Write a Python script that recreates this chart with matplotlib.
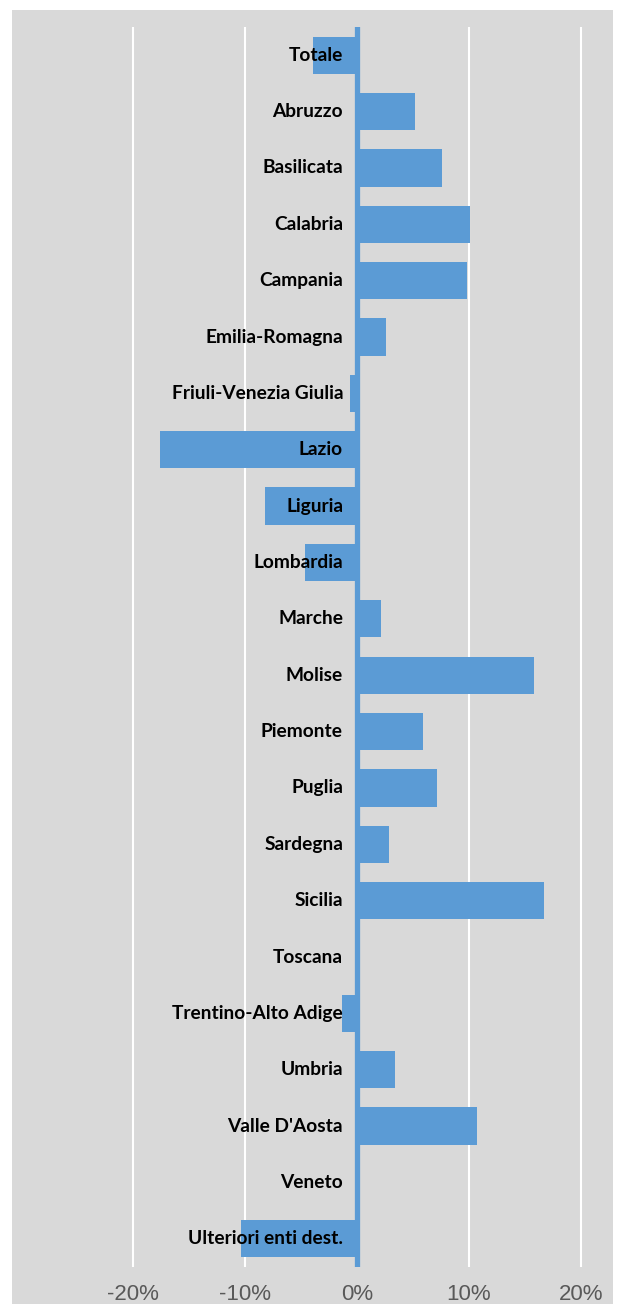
import numpy as np
import matplotlib
matplotlib.use("Agg")
from matplotlib import pyplot as plt
from matplotlib.patches import Rectangle

regions = ["Totale", "Abruzzo", "Basilicata", "Calabria", "Campania",
           "Emilia-Romagna", "Friuli-Venezia Giulia", "Lazio", "Liguria",
           "Lombardia", "Marche", "Molise", "Piemonte", "Puglia", "Sardegna",
           "Sicilia", "Toscana", "Trentino-Alto Adige", "Umbria",
           "Valle D'Aosta", "Veneto", "Ulteriori enti dest."]
variation = [-3.9, 5.2, 7.6, 10.1, 9.8, 2.6, -0.6, -17.6, -8.2, -4.6, 2.1,
             15.8, 5.9, 7.1, 2.9, 16.7, 0.1, -1.3, 3.4, 10.7, 0.0, -10.4]
ticks = [-20, -10, 0, 10, 20]
tick_labels = ["-20%", "-10%", "0%", "10%", "20%"]

W, H = 621, 1304
bg = "#d9d9d9"
bar_color = "#5b9bd5"

fig = plt.figure(figsize=(W / 100, H / 100), dpi=100, facecolor="white")
fig.patches.append(Rectangle((12 / W, 0), (613 - 12) / W, (H - 10) / H,
                             transform=fig.transFigure, facecolor=bg,
                             edgecolor="none", zorder=-5))

# plot area in pixels
left, right, top, bottom = 120, 600, 27, 1267
ax = fig.add_axes([left / W, 1 - bottom / H, (right - left) / W, (bottom - top) / H])
ax.set_zorder(2)
ax.set_facecolor("none")
px_per_pct = 11.2
zero_x = 357
ax.set_xlim((left - zero_x) / px_per_pct, (right - zero_x) / px_per_pct)

y = np.arange(len(regions))
ax.barh(y, variation, height=0.66, color=bar_color, zorder=2)
ax.set_ylim(len(regions) - 0.5, -0.5)

for t in ticks:
    if t != 0:
        ax.axvline(t, color="white", lw=1.5, zorder=1)
ax.axvline(0, color=bar_color, lw=3.8, zorder=3)

for i, name in enumerate(regions):
    ax.text(-14 / px_per_pct, i, name, ha="right", va="center",
            fontsize=13.8, fontweight="bold", family="Lato", color="black",
            zorder=4)

ax.set_xticks(ticks)
ax.set_xticklabels(tick_labels, family=["Liberation Sans Narrow", "Liberation Sans"],
                   fontsize=16, color="#595959")
ax.tick_params(axis="x", length=0, pad=12.5)
ax.set_yticks([])
for s in ax.spines.values():
    s.set_visible(False)

fig.savefig("out.png", dpi=100, facecolor="white")
